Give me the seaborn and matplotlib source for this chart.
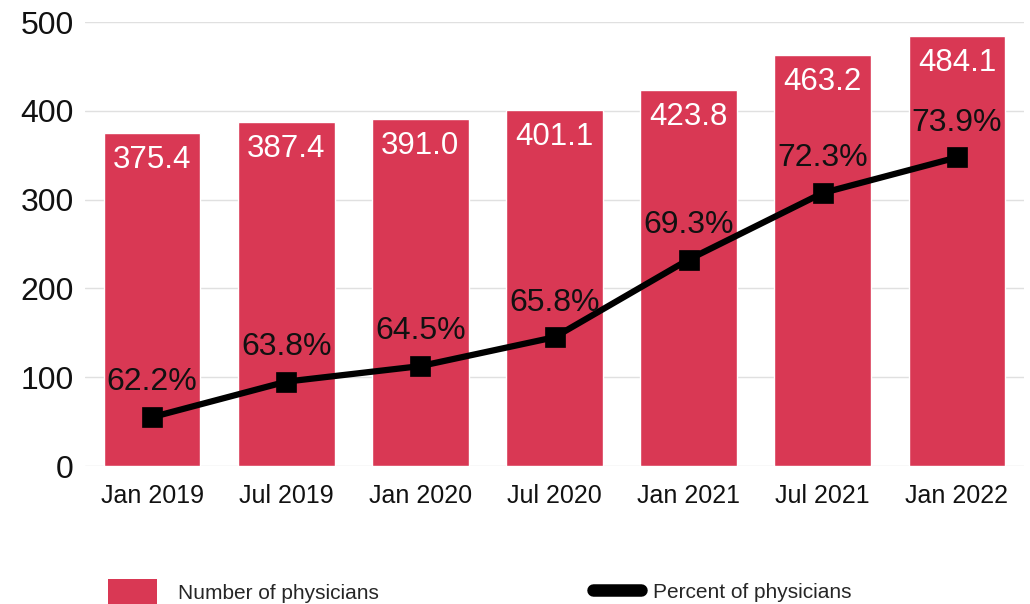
import matplotlib
matplotlib.use('AGG')
import matplotlib.pyplot as plt
import seaborn as sns
import pandas as pd
from matplotlib.patches import Patch
from matplotlib.lines import Line2D

# data
periods = ["Jan 2019", "Jul 2019", "Jan 2020", "Jul 2020", "Jan 2021", "Jul 2021", "Jan 2022"]
physicians = [375.4, 387.4, 391.0, 401.1, 423.8, 463.2, 484.1]
percent = [62.2, 63.8, 64.5, 65.8, 69.3, 72.3, 73.9]

BAR_COLOR = "#d93854"
TEXT_COLOR = "#111111"

sns.set_style("white")
plt.rcParams['font.family'] = ['Liberation Sans', 'DejaVu Sans']

df = pd.DataFrame({"period": periods, "physicians": physicians, "percent": percent})

fig = plt.figure(figsize=[10.3, 6.04], dpi=100)
ax = fig.add_axes([85 / 1030, 138 / 604, 939 / 1030, 444 / 604])

sns.barplot(data=df, x="period", y="physicians", color=BAR_COLOR, saturation=1,
            width=0.72, ax=ax, zorder=2)
ax.set_ylim(0, 500)
ax.set_xlim(-0.5, 6.5)
ax.set_yticks(range(0, 501, 100))
ax.grid(axis="y", color="#e0e0e0", linewidth=1.0, zorder=0)
ax.set_axisbelow(True)
for s in ax.spines.values():
    s.set_visible(False)
ax.tick_params(axis="y", length=0, labelsize=23, labelcolor=TEXT_COLOR, pad=8)
ax.tick_params(axis="x", length=0, labelsize=18, labelcolor=TEXT_COLOR, pad=13)
ax.set_xlabel("")
ax.set_ylabel("")

for i, v in enumerate(physicians):
    ax.annotate(f"{v:.1f}", (i, v), xytext=(0, -19.5), textcoords="offset points",
                ha="center", va="center", color="white", fontsize=22.5, zorder=3)

# percent line on a hidden secondary axis
ax2 = ax.twinx()
sns.pointplot(data=df, x="period", y="percent", color="black", markers="s",
              markersize=11, linewidth=4.5, ax=ax2, zorder=4)
ax2.set_ylim(60, 80)
ax2.set_xlim(-0.5, 6.5)
ax2.axis("off")
for i, p in enumerate(percent):
    ax2.annotate(f"{p:.1f}%", (i, p), xytext=(0, 25), textcoords="offset points",
                 ha="center", va="center", color=TEXT_COLOR, fontsize=23, zorder=5)

# legend below the chart
leg1 = fig.legend(handles=[Patch(facecolor=BAR_COLOR, edgecolor="none")],
                  labels=["Number of physicians"], loc="center left",
                  bbox_to_anchor=(89 / 1030, 1 - 592 / 604), frameon=False,
                  fontsize=15, handlelength=2.35, handleheight=1.5, handletextpad=1.0)
leg2 = fig.legend(handles=[Line2D([0], [0], color="black", linewidth=9, solid_capstyle="round")],
                  labels=["Percent of physicians"], loc="center left",
                  bbox_to_anchor=(574 / 1030, 1 - 592 / 604), frameon=False,
                  fontsize=15, handlelength=2.3, handletextpad=0.6)

plt.savefig("out.png", dpi=100)
